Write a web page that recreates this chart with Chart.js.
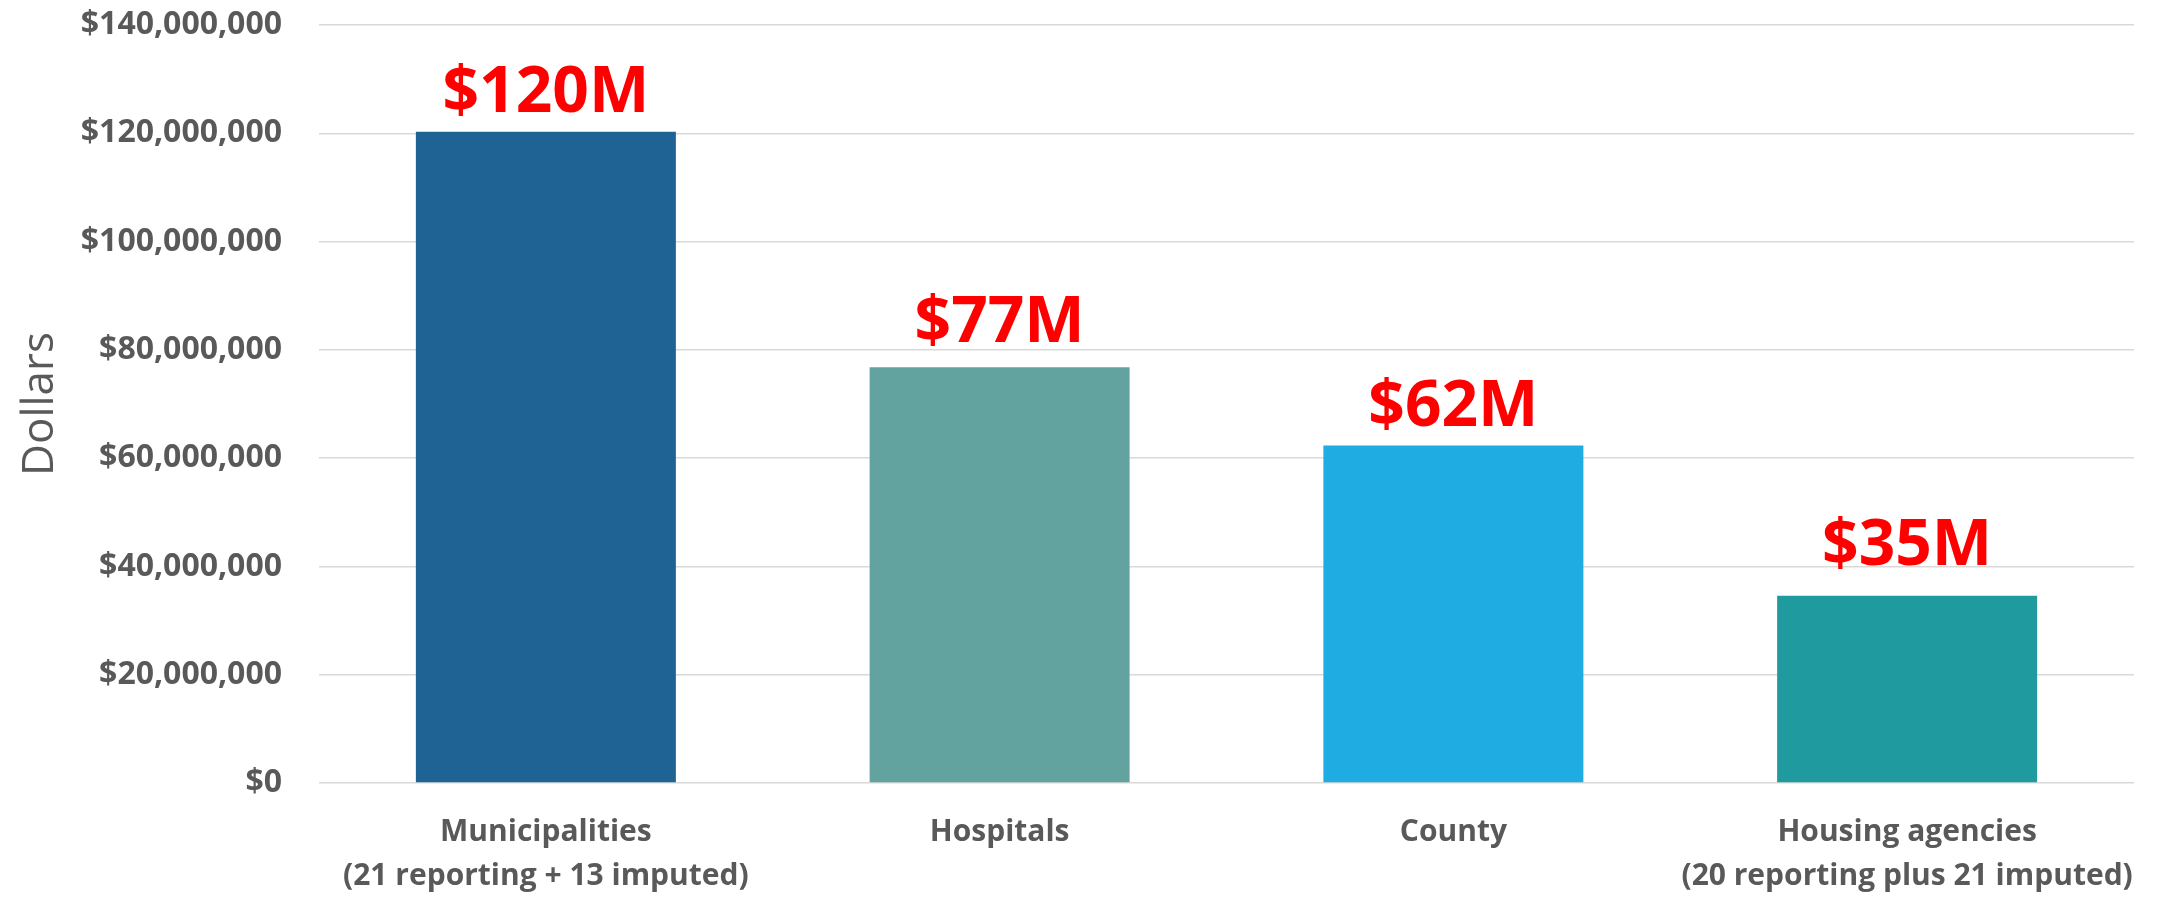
<!DOCTYPE html>
<html>
<head>
<meta charset="utf-8">
<script src="https://cdn.jsdelivr.net/npm/chart.js@4.4.0/dist/chart.umd.min.js"></script>
<style>
  html, body { margin: 0; padding: 0; background: #fff; }
  #wrap { width: 2165px; height: 897px; position: relative; }
</style>
</head>
<body>
<div id="wrap"><canvas id="chart"></canvas></div>
<script>
const categories = [
  ['Municipalities', '(21 reporting + 13 imputed)'],
  'Hospitals',
  'County',
  ['Housing agencies', '(20 reporting plus 21 imputed)']
];
const dollars = [120300000, 76800000, 62350000, 34600000];
const barColors = ['#1F6394', '#63A39F', '#1FACE2', '#1F9BA0'];
const yTicks = [0, 20000000, 40000000, 60000000, 80000000, 100000000, 120000000, 140000000];

const gray = '#595959';

// red "$xxM" labels above each bar
const valueLabels = {
  id: 'valueLabels',
  afterDatasetsDraw(chart, args, opts) {
    const ctx = chart.ctx;
    const meta = chart.getDatasetMeta(0);
    ctx.save();
    ctx.font = 'bold 64px "Open Sans"';
    ctx.fillStyle = '#FF0000';
    ctx.textAlign = 'center';
    ctx.textBaseline = 'alphabetic';
    meta.data.forEach((bar, i) => {
      const v = chart.data.datasets[0].data[i];
      const txt = '$' + Math.round(v / 1e6) + 'M';
      ctx.fillText(txt, bar.x, bar.y - opts.gaps[i]);
    });
    ctx.restore();
  }
};

new Chart(document.getElementById('chart').getContext('2d'), {
  type: 'bar',
  data: {
    labels: categories,
    datasets: [{
      data: dollars,
      backgroundColor: barColors,
      barPercentage: 0.573,
      categoryPercentage: 1
    }]
  },
  options: {
    responsive: true,
    maintainAspectRatio: false,
    animation: false,
    layout: { padding: { top: 25, right: 31, left: 0, bottom: 0 } },
    plugins: {
      legend: { display: false },
      tooltip: { enabled: false },
      valueLabels: { gaps: [20, 25, 19, 31] }
    },
    scales: {
      x: {
        afterFit(scale) { scale.height = 114; },
        grid: { display: false, drawTicks: false },
        border: { display: false },
        ticks: {
          color: gray,
          padding: 28,
          autoSkip: false,
          maxRotation: 0,
          minRotation: 0,
          font: { family: 'Open Sans', weight: 'bold', size: 30, lineHeight: 1.46 }
        }
      },
      y: {
        min: 0,
        max: 140000000,
        afterFit(scale) {
          scale.width = 319;
          scale.paddingTop = 0;
          scale.paddingBottom = 0;
        },
        afterBuildTicks(scale) { scale.ticks = yTicks.map(v => ({ value: v })); },
        grid: { color: '#D9D9D9', lineWidth: 1.5, drawTicks: false },
        border: { display: false },
        ticks: {
          color: gray,
          padding: 37,
          font: { family: 'Open Sans', weight: 'bold', size: 32 },
          callback: v => '$' + Number(v).toLocaleString('en-US')
        },
        title: {
          display: true,
          text: 'Dollars',
          color: gray,
          padding: { top: 14, bottom: 0 },
          font: { family: 'Open Sans', size: 44 }
        }
      }
    }
  },
  plugins: [valueLabels]
});
</script>
</body>
</html>
